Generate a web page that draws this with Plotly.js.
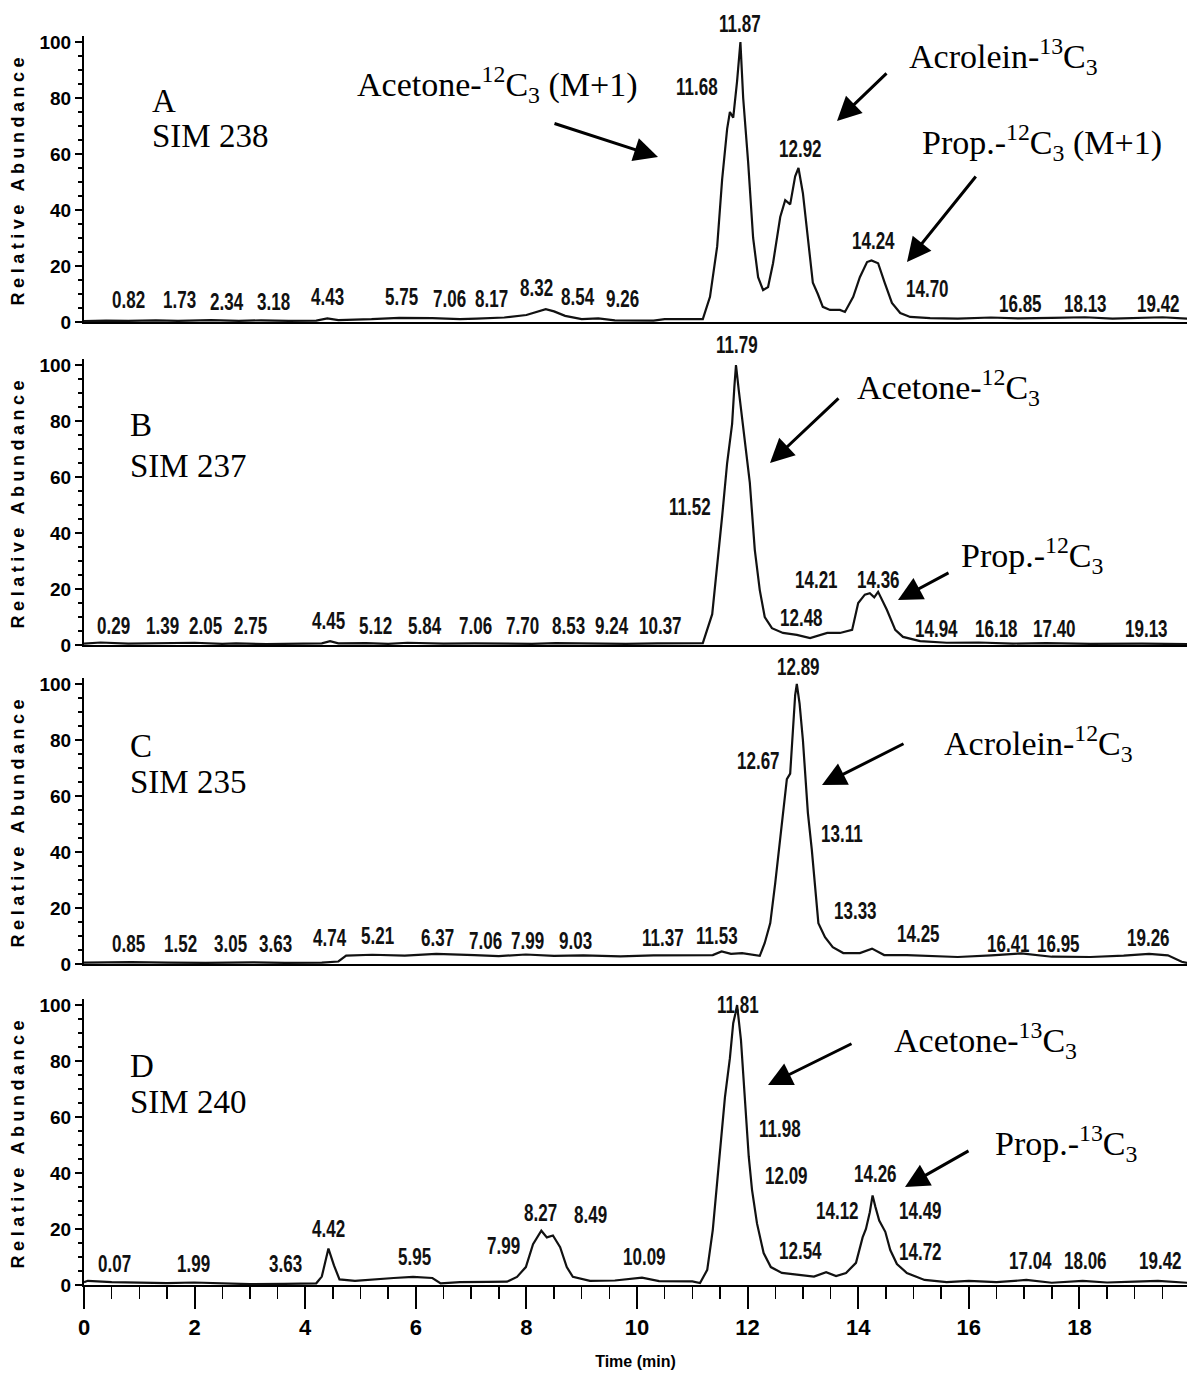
<!DOCTYPE html>
<html><head><meta charset="utf-8">
<script src="https://cdn.plot.ly/plotly-3.0.1.min.js"></script>
<style>
html,body{margin:0;padding:0;background:#fff;}
#chart{width:1187px;height:1376px;}
.ytitle,.y2title,.y3title,.y4title{letter-spacing:4.5px;}
.annotation-text[style*="Narrow"]{transform:scaleX(0.74);transform-box:fill-box;transform-origin:center;}
</style></head><body><div id="chart"></div>
<script>
// ---------- DATA ----------
const timeA = [0,0.4,0.8,1.3,1.7,2.3,2.8,3.2,3.7,4.2,4.4,4.6,5.2,5.7,6.3,6.8,7.1,7.6,8.0,8.2,8.35,8.5,8.7,9.0,9.3,9.6,10.0,10.3,10.5,11.19,11.32,11.45,11.54,11.63,11.68,11.74,11.81,11.87,11.92,12.01,12.10,12.19,12.28,12.37,12.46,12.59,12.68,12.77,12.86,12.92,13.00,13.09,13.18,13.27,13.36,13.49,13.67,13.76,13.91,14.03,14.16,14.24,14.36,14.48,14.61,14.76,14.94,15.3,15.8,16.4,16.9,17.5,18.1,18.6,19.1,19.5,19.95];
const abundA = [0.3,0.5,0.4,0.6,0.4,0.7,0.4,0.6,0.4,0.5,1.3,0.7,1.0,1.5,1.4,1.0,1.2,1.6,2.5,3.8,4.6,3.8,2.2,1.0,1.3,0.6,0.6,0.5,1.0,1.0,9,27,51,69,75,73,86,100,80,57,30,16,11.4,12.5,21,37.5,43.5,42,52,55,46,30,14,10,5.4,4.3,4.3,3.6,9,16,21.4,22,21,14,6.8,3.2,1.8,1.4,1.2,1.6,1.3,1.5,1.7,1.2,1.5,1.7,1.2];

const timeB = [0,0.3,0.8,1.4,2.0,2.5,2.75,3.3,3.9,4.3,4.45,4.6,5.1,5.5,5.85,6.5,7.06,7.7,8.1,8.53,9.24,9.8,10.37,10.9,11.19,11.36,11.45,11.54,11.63,11.72,11.76,11.79,11.84,11.95,12.04,12.13,12.22,12.31,12.44,12.64,12.89,13.13,13.3,13.44,13.67,13.89,14.00,14.12,14.21,14.29,14.36,14.52,14.67,14.81,15.12,15.6,16.18,16.8,17.4,18.2,19.13,19.95];
const abundB = [0.5,0.9,0.5,0.6,0.8,0.4,0.6,0.3,0.4,0.6,1.4,0.6,0.7,0.4,0.8,0.5,0.6,0.5,0.4,0.7,0.5,0.4,0.6,0.5,0.7,11,28,46,65,79,92,100,91,72,58,34,19.6,10,6,4.3,3.6,2.5,3.5,4.3,4.3,5.4,15,18,18.5,17,19,12.5,5.4,2.9,1.4,0.8,0.9,0.5,0.7,0.4,0.5,0.3];

const timeC = [0,0.85,1.52,2.2,3.05,3.63,4.3,4.6,4.74,5.21,5.8,6.37,7.06,7.5,7.99,8.5,9.03,9.7,10.3,10.9,11.37,11.53,11.7,11.9,12.22,12.31,12.41,12.50,12.59,12.66,12.71,12.77,12.82,12.86,12.89,12.94,13.00,13.04,13.09,13.16,13.22,13.28,13.40,13.54,13.73,14.03,14.25,14.34,14.47,14.88,15.35,15.8,16.41,16.95,17.5,18.2,18.8,19.26,19.6,19.85,19.95];
const abundC = [0.5,0.7,0.5,0.4,0.6,0.4,0.5,0.9,3.0,3.3,3.0,3.6,3.2,2.8,3.4,2.9,3.1,2.7,3.1,3.3,3.2,4.5,3.6,3.9,2.9,7.5,14.6,29,45,58,66,68,85,96,100,93,80,69,54,41,29,14.6,9.6,6,3.9,3.9,5.5,4.5,3.2,3.2,2.8,2.5,3.1,3.8,2.6,2.5,3.0,3.6,3.1,0.8,0.4];

const timeD = [0,0.07,0.5,1.0,1.5,1.99,2.5,3.0,3.63,4.2,4.30,4.42,4.52,4.62,4.9,5.2,5.6,5.95,6.3,6.45,6.8,7.3,7.65,7.83,7.99,8.12,8.27,8.37,8.48,8.61,8.73,8.84,9.15,9.6,10.09,10.4,11.0,11.14,11.27,11.37,11.50,11.59,11.68,11.74,11.78,11.81,11.88,11.97,12.02,12.08,12.17,12.29,12.42,12.62,12.93,13.2,13.42,13.6,13.78,13.96,14.08,14.14,14.21,14.26,14.31,14.38,14.49,14.58,14.70,14.88,15.2,15.6,16.0,16.5,17.04,17.5,18.06,18.5,19.0,19.42,19.95];
const abundD = [1.0,1.5,1.0,0.8,0.7,0.9,0.5,0.3,0.4,0.6,3,13,7,2,1.5,2.0,2.5,2.9,2.5,0.6,1.0,1.1,1.2,2.9,6.4,14.6,19.4,17,17.7,13.5,6.4,2.9,1.5,1.6,2.6,1.4,1.3,0.7,5.4,19.6,46,67,81,93.5,97,100,87.5,60,46,34,22,11.4,6.4,4.3,3.6,3.0,4.6,3.2,4.3,7.9,17,20,26,32,28,23,19,12.5,7.5,4.3,1.8,1.0,1.5,1.0,1.8,0.8,1.5,0.9,1.2,1.5,0.8];

// retention-time labels printed on each trace
const peakLabelsA = ['0.82','1.73','2.34','3.18','4.43','5.75','7.06','8.17','8.32','8.54','9.26','11.68','11.87','12.92','14.24','14.70','16.85','18.13','19.42'];
const peakLabelsB = ['0.29','1.39','2.05','2.75','4.45','5.12','5.84','7.06','7.70','8.53','9.24','10.37','11.52','11.79','12.48','14.21','14.36','14.94','16.18','17.40','19.13'];
const peakLabelsC = ['0.85','1.52','3.05','3.63','4.74','5.21','6.37','7.06','7.99','9.03','11.37','11.53','12.67','12.89','13.11','13.33','14.25','16.41','16.95','19.26'];
const peakLabelsD = ['0.07','1.99','3.63','4.42','5.95','7.99','8.27','8.49','10.09','11.81','11.98','12.09','12.54','14.12','14.26','14.49','14.72','17.04','18.06','19.42'];

const panelNames = ['A','B','C','D'];
const simIons = ['SIM 238','SIM 237','SIM 235','SIM 240'];
const xTickStep = 2;
const yTickStep = 20;

// ---------- LAYOUT (pixel positions) ----------
const W=1187, H=1376, L=84, R=0, T=36, B=91;
const plotW=W-L-R, plotH=H-T-B;
const px = x => (x-L)/plotW;
const py = y => (H-B-y)/plotH;
const zeroPx = [322,645,964,1285];
const PXPERUNIT = 2.8, YMAX = 102;

const posA = [[128,301],[179,301],[227,302],[273,302],[327,297],[401,297],[449,299],[491,299],[536,288],[578,297],[622,299],[697,87],[740,25],[800,149],[873,241],[927,289],[1020,304],[1085,304],[1158,304]];
const posB = [[113,626],[162,626],[205,626],[250,626],[328,621],[375,626],[425,626],[475,626],[522,626],[568,626],[612,626],[660,626],[690,507],[737,345],[801,618],[816,580],[878,580],[936,630],[996,630],[1054,630],[1146,630]];
const posC = [[128,944],[180,944],[230,944],[275,944],[330,939],[377,936],[437,939],[485,941],[527,941],[575,941],[663,939],[717,936],[758,761],[798,667],[842,834],[855,911],[918,934],[1008,944],[1058,944],[1148,939]];
const posD = [[114,1264],[193,1264],[285,1264],[328,1229],[414,1257],[503,1246],[540,1213],[590,1215],[644,1257],[738,1006],[780,1129],[787,1176],[800,1251],[837,1211],[875,1174],[920,1211],[920,1252],[1030,1261],[1085,1261],[1160,1261]];

const NARROW = "'Liberation Sans Narrow','Liberation Sans',Arial,sans-serif";
const SANS = "'Liberation Sans',Arial,sans-serif";
const SERIF = "'Liberation Serif','Times New Roman',serif";

const times=[timeA,timeB,timeC,timeD], abunds=[abundA,abundB,abundC,abundD];
const traces = times.map((t,i)=>({
  type:'scatter', mode:'lines', x:t, y:abunds[i],
  xaxis: i===0?'x':'x'+(i+1), yaxis: i===0?'y':'y'+(i+1),
  line:{color:'#111', width:2.2}, hoverinfo:'skip', showlegend:false
}));

const layout = {
  width:W, height:H, margin:{l:L,r:R,t:T,b:B},
  paper_bgcolor:'#fff', plot_bgcolor:'#fff', showlegend:false,
  annotations:[]
};
for(let i=0;i<4;i++){
  const z=zeroPx[i];
  const dom=[Math.max(0,py(z)), Math.min(1,py(z-YMAX*PXPERUNIT))];
  const yk = i===0?'yaxis':'yaxis'+(i+1);
  const xk = i===0?'xaxis':'xaxis'+(i+1);
  const yid = i===0?'y':'y'+(i+1);
  layout[yk] = {
    domain:dom, range:[0,YMAX], anchor: i===0?'x':'x'+(i+1),
    tickmode:'linear', tick0:0, dtick:yTickStep,
    ticks:'outside', ticklen:7, tickwidth:2, tickcolor:'#000',
    showline:true, linewidth:2, linecolor:'#000', showgrid:false, zeroline:false,
    tickfont:{family:SANS, size:19, weight:'bold', color:'#000'},
    minor:{dtick:5, tick0:0, ticks:'outside', ticklen:4, tickwidth:1.5, tickcolor:'#000', showgrid:false},
    title:{text:'Relative Abundance', font:{family:SANS, size:18, weight:'bold', color:'#000'}, standoff:10},
    fixedrange:true
  };
  const base = {
    anchor:yid, range:[0,(W-L-R)/55.3], showline:true, linewidth:2, linecolor:'#000',
    showgrid:false, zeroline:false, fixedrange:true
  };
  if(i<3){
    layout[xk] = Object.assign(base,{matches:'x4', showticklabels:false, ticks:''});
  } else {
    layout[xk] = Object.assign(base,{
      tickmode:'linear', tick0:0, dtick:xTickStep,
      ticks:'outside', ticklen:22, tickwidth:2, tickcolor:'#000',
      minor:{dtick:0.5, tick0:0, ticks:'outside', ticklen:12, tickwidth:1.5, tickcolor:'#000', showgrid:false},
      tickfont:{family:SANS, size:22, weight:'bold', color:'#000'},
      title:{text:'Time (min)', font:{family:SANS, size:16, weight:'bold', color:'#000'}, standoff:16}
    });
  }
}

const ann = layout.annotations;
function txt(text,x,y,font,xa){ann.push({xref:'paper',yref:'paper',x:px(x),y:py(y),text:text,showarrow:false,xanchor:xa||'center',yanchor:'middle',font:font});}
function arrow(tail,head){ann.push({xref:'paper',yref:'paper',x:px(head[0]),y:py(head[1]),axref:'pixel',ayref:'pixel',ax:tail[0]-head[0],ay:tail[1]-head[1],text:'',showarrow:true,arrowhead:2,arrowsize:1.6,arrowwidth:3,arrowcolor:'#000'});}

const peakFont = {family:NARROW, size:23, weight:'bold', color:'#111'};
[[peakLabelsA,posA],[peakLabelsB,posB],[peakLabelsC,posC],[peakLabelsD,posD]].forEach(([labs,pos])=>{
  labs.forEach((s,k)=>txt(s,pos[k][0],pos[k][1],peakFont));
});

const panelFont = {family:SERIF, size:33, color:'#000'};
const panelPos = [[150,101,136],[128,425,466],[128,746,782],[128,1066,1102]];
for(let i=0;i<4;i++){
  txt(panelNames[i],panelPos[i][0],panelPos[i][1],panelFont,'left');
  txt(simIons[i],panelPos[i][0],panelPos[i][2],panelFont,'left');
}

const cmpFont = {family:SERIF, size:34, color:'#000'};
txt('Acetone-<sup>12</sup>C<sub>3</sub> (M+1)',497,85,cmpFont);
txt('Acrolein-<sup>13</sup>C<sub>3</sub>',1003,57,cmpFont);
txt('Prop.-<sup>12</sup>C<sub>3</sub> (M+1)',1042,142,cmpFont);
txt('Acetone-<sup>12</sup>C<sub>3</sub>',948,388,cmpFont);
txt('Prop.-<sup>12</sup>C<sub>3</sub>',1032,555,cmpFont);
txt('Acrolein-<sup>12</sup>C<sub>3</sub>',1038,743,cmpFont);
txt('Acetone-<sup>13</sup>C<sub>3</sub>',985,1040,cmpFont);
txt('Prop.-<sup>13</sup>C<sub>3</sub>',1066,1143,cmpFont);

arrow([553,123],[658,157]);
arrow([888,72],[837,121]);
arrow([977,175],[907,262]);
arrow([840,397],[770,463]);
arrow([950,572],[898,600]);
arrow([905,743],[822,785]);
arrow([853,1043],[768,1085]);
arrow([970,1150],[905,1187]);

Plotly.newPlot('chart', traces, layout, {staticPlot:true, displayModeBar:false});
</script></body></html>
